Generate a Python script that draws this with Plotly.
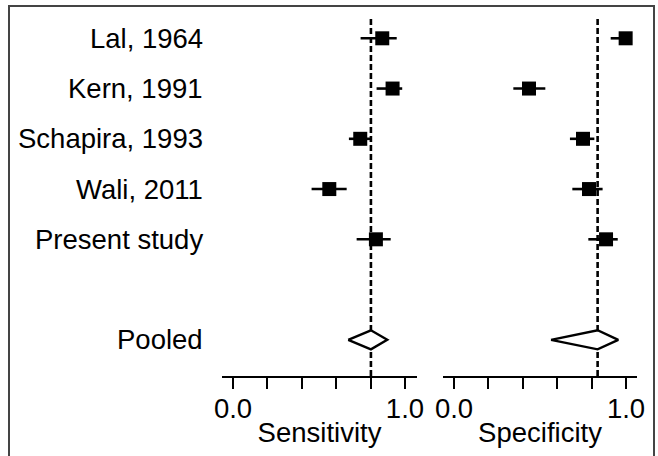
import plotly.graph_objects as go

studies = ["Lal, 1964", "Kern, 1991", "Schapira, 1993", "Wali, 2011", "Present study"]
row_pos = [1, 2, 3, 4, 5]
pooled_label = "Pooled"
pooled_pos = 7

sens = [0.868, 0.928, 0.740, 0.560, 0.831]
sens_lo = [0.742, 0.835, 0.674, 0.457, 0.719]
sens_hi = [0.952, 0.984, 0.806, 0.661, 0.917]
sens_pooled = [0.670, 0.802, 0.897]  # lower, estimate, upper

spec = [0.998, 0.436, 0.750, 0.785, 0.884]
spec_lo = [0.911, 0.345, 0.674, 0.688, 0.781]
spec_hi = [1.0, 0.531, 0.816, 0.864, 0.952]
spec_pooled = [0.564, 0.835, 0.955]

tick_vals = [0.0, 0.2, 0.4, 0.6, 0.8, 1.0]
tick_text = ["0.0", "", "", "", "", "1.0"]
axis_titles = ["Sensitivity", "Specificity"]

W, H = 658, 456
FONT = "Liberation Sans, Arial, sans-serif"
FS = 27.5

fig = go.Figure()

panels = [
    (sens, sens_lo, sens_hi, sens_pooled, "x", "y"),
    (spec, spec_lo, spec_hi, spec_pooled, "x2", "y2"),
]

half_h = 0.19
for est, lo, hi, pooled, xa, ya in panels:
    # dashed vertical line at pooled estimate
    fig.add_shape(type="line", xref=xa, yref=ya + " domain", x0=pooled[1], x1=pooled[1],
                  y0=0, y1=1, line=dict(color="black", width=2.6, dash="6px,3px"), layer="below")
    fig.add_trace(go.Scatter(
        x=est, y=row_pos, mode="markers", xaxis=xa, yaxis=ya,
        marker=dict(symbol="square", size=14, color="black"),
        error_x=dict(type="data", symmetric=False,
                     array=[h - e for h, e in zip(hi, est)],
                     arrayminus=[e - l for e, l in zip(est, lo)],
                     color="black", thickness=2.6, width=0),
        showlegend=False, hoverinfo="skip"))
    lo_p, est_p, hi_p = pooled
    fig.add_trace(go.Scatter(
        x=[lo_p, est_p, hi_p, est_p, lo_p],
        y=[pooled_pos, pooled_pos - half_h, pooled_pos, pooled_pos + half_h, pooled_pos],
        mode="lines", fill="toself", fillcolor="white",
        line=dict(color="black", width=2.4), xaxis=xa, yaxis=ya,
        showlegend=False, hoverinfo="skip"))

ydom = [1 - 376 / H, 1 - 18 / H]
yrange = [7.72, 0.596]

axis_common = dict(
    tickvals=tick_vals, ticktext=tick_text, ticks="outside", ticklen=11, tickwidth=2.4,
    tickcolor="black", showline=True, linecolor="black", linewidth=2.4,
    showgrid=False, zeroline=False, tickfont=dict(size=FS, color="black", family=FONT),
    title_font=dict(size=FS, color="black", family=FONT), automargin=False,
    ticklabelstandoff=-4,
)

fig.update_layout(
    width=W, height=H,
    margin=dict(l=0, r=0, t=0, b=0),
    paper_bgcolor="white", plot_bgcolor="white",
    font=dict(family=FONT, size=FS, color="black"),
    xaxis=dict(domain=[222 / W, 417 / W], range=[-0.064, 1.07], anchor="y",
               title=dict(text=axis_titles[0], standoff=0), **axis_common),
    xaxis2=dict(domain=[443 / W, 637 / W], range=[-0.064, 1.064], anchor="y2",
                title=dict(text=axis_titles[1], standoff=0), **axis_common),
    yaxis=dict(domain=ydom, range=yrange, visible=False, anchor="x"),
    yaxis2=dict(domain=ydom, range=yrange, visible=False, anchor="x2"),
)

# study labels
for name, pos in zip(studies + [pooled_label], row_pos + [pooled_pos]):
    fig.add_annotation(text=name, xref="paper", x=205 / W, xanchor="right",
                       yref="y", y=pos, yanchor="middle", showarrow=False,
                       font=dict(size=FS, color="black", family=FONT))

# outer frame
fig.add_shape(type="rect", xref="paper", yref="paper",
              x0=9 / W, x1=654 / W, y0=-0.05, y1=1 - 6 / H,
              line=dict(color="#444444", width=2), layer="above")

fig.write_html("out.html")
